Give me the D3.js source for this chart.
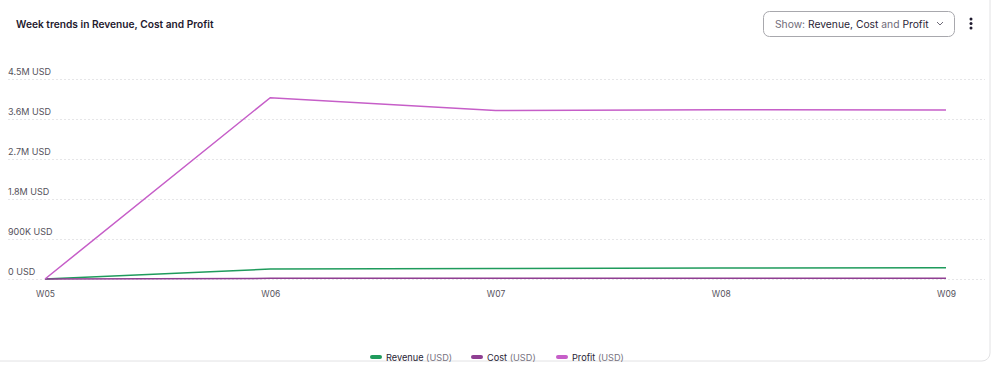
<!DOCTYPE html>
<html>
<head>
<meta charset="utf-8">
<script src="https://cdn.jsdelivr.net/npm/d3@7"></script>
<style>
  body { margin: 0; background: #fff; font-family: Inter, "Noto Sans", sans-serif; }
</style>
</head>
<body>
<div class="chart"></div>
<script>
const weeks = ['W05', 'W06', 'W07', 'W08', 'W09'];
const revenue = [0, 0.225, 0.235, 0.245, 0.255];
const cost = [0, 0.015, 0.015, 0.015, 0.015];
const profit = [0, 4.08, 3.79, 3.81, 3.80];
const yTicks = [0, 0.9, 1.8, 2.7, 3.6, 4.5];
const yTickLabels = ['0 USD', '900K USD', '1.8M USD', '2.7M USD', '3.6M USD', '4.5M USD'];

const series = [
  {name: 'Revenue', values: revenue, color: '#1f9b5c'},
  {name: 'Cost', values: cost, color: '#8f3f92'},
  {name: 'Profit', values: profit, color: '#c65ec8'}
];

const width = 994;
const height = 366;

const svg = d3.select('.chart').append('svg')
    .attr('width', width)
    .attr('height', height);

// card
svg.append('rect')
    .attr('x', -10).attr('y', -10)
    .attr('width', 1000).attr('height', 371)
    .attr('rx', 8)
    .attr('fill', '#fff')
    .attr('stroke', '#e2e2e4');

svg.append('text')
    .attr('x', 16).attr('y', 27.5)
    .attr('font-size', 10.2)
    .attr('font-weight', 600)
    .attr('fill', '#1f1a2e')
    .text('Week trends in Revenue, Cost and Profit');

// dropdown
const dd = svg.append('g');
dd.append('rect')
    .attr('x', 763.5).attr('y', 11.5)
    .attr('width', 191).attr('height', 25)
    .attr('rx', 6)
    .attr('fill', '#fff')
    .attr('stroke', '#a8a8ad');
const ddText = dd.append('text')
    .attr('x', 775).attr('y', 27.5)
    .attr('font-size', 10.3)
    .attr('fill', '#2a2536');
ddText.append('tspan').attr('fill', '#6f6b78').text('Show: ');
ddText.append('tspan').text('Revenue, Cost ');
ddText.append('tspan').attr('fill', '#6f6b78').text('and ');
ddText.append('tspan').text('Profit');
dd.append('path')
    .attr('d', 'M937,22 l3,3 l3,-3')
    .attr('fill', 'none')
    .attr('stroke', '#6f6b78')
    .attr('stroke-width', 1);
[19, 23.5, 28].forEach(cy => {
  dd.append('circle').attr('cx', 971).attr('cy', cy).attr('r', 1.5).attr('fill', '#1f1a2e');
});

const x = d3.scalePoint()
    .domain(weeks)
    .range([45, 946]);

const y = d3.scaleLinear()
    .domain([0, 4.5])
    .range([279, 79]);

// grid
svg.append('g')
  .selectAll('line')
  .data(yTicks)
  .enter().append('line')
    .attr('x1', 8)
    .attr('x2', 985)
    .attr('y1', d => y(d) + 0.5)
    .attr('y2', d => y(d) + 0.5)
    .attr('stroke', '#e6e6e8')
    .attr('stroke-dasharray', '2,2');

svg.append('g')
  .selectAll('text')
  .data(yTicks)
  .enter().append('text')
    .attr('x', 8)
    .attr('y', d => y(d) - 4)
    .attr('font-size', 9)
    .attr('fill', '#55525c')
    .text((d, i) => yTickLabels[i]);

const xAxis = svg.append('g')
    .attr('transform', 'translate(0,279)')
    .call(d3.axisBottom(x).tickSize(0).tickPadding(12));
xAxis.select('.domain').remove();
xAxis.selectAll('text')
    .attr('font-size', 8.5)
    .attr('font-family', 'Inter, sans-serif')
    .attr('fill', '#55525c');

const line = d3.line()
    .x((d, i) => x(weeks[i]))
    .y(d => y(d));

svg.append('g')
  .selectAll('path')
  .data(series)
  .enter().append('path')
    .attr('d', d => line(d.values))
    .attr('fill', 'none')
    .attr('stroke', d => d.color)
    .attr('stroke-width', 1.5);

// legend
const legendX = [370, 471, 556];
const lg = svg.append('g')
  .selectAll('g')
  .data(series)
  .enter().append('g')
    .attr('transform', (d, i) => `translate(${legendX[i]},357)`);
lg.append('rect')
    .attr('x', 0).attr('y', -2)
    .attr('width', 12).attr('height', 4)
    .attr('rx', 2)
    .attr('fill', d => d.color);
const lt = lg.append('text')
    .attr('x', 16).attr('y', 3.5)
    .attr('font-size', 9.2)
    .attr('fill', '#2a2536');
lt.append('tspan').text(d => d.name + ' ');
lt.append('tspan').attr('fill', '#77737f').text('(USD)');
</script>
</body>
</html>
